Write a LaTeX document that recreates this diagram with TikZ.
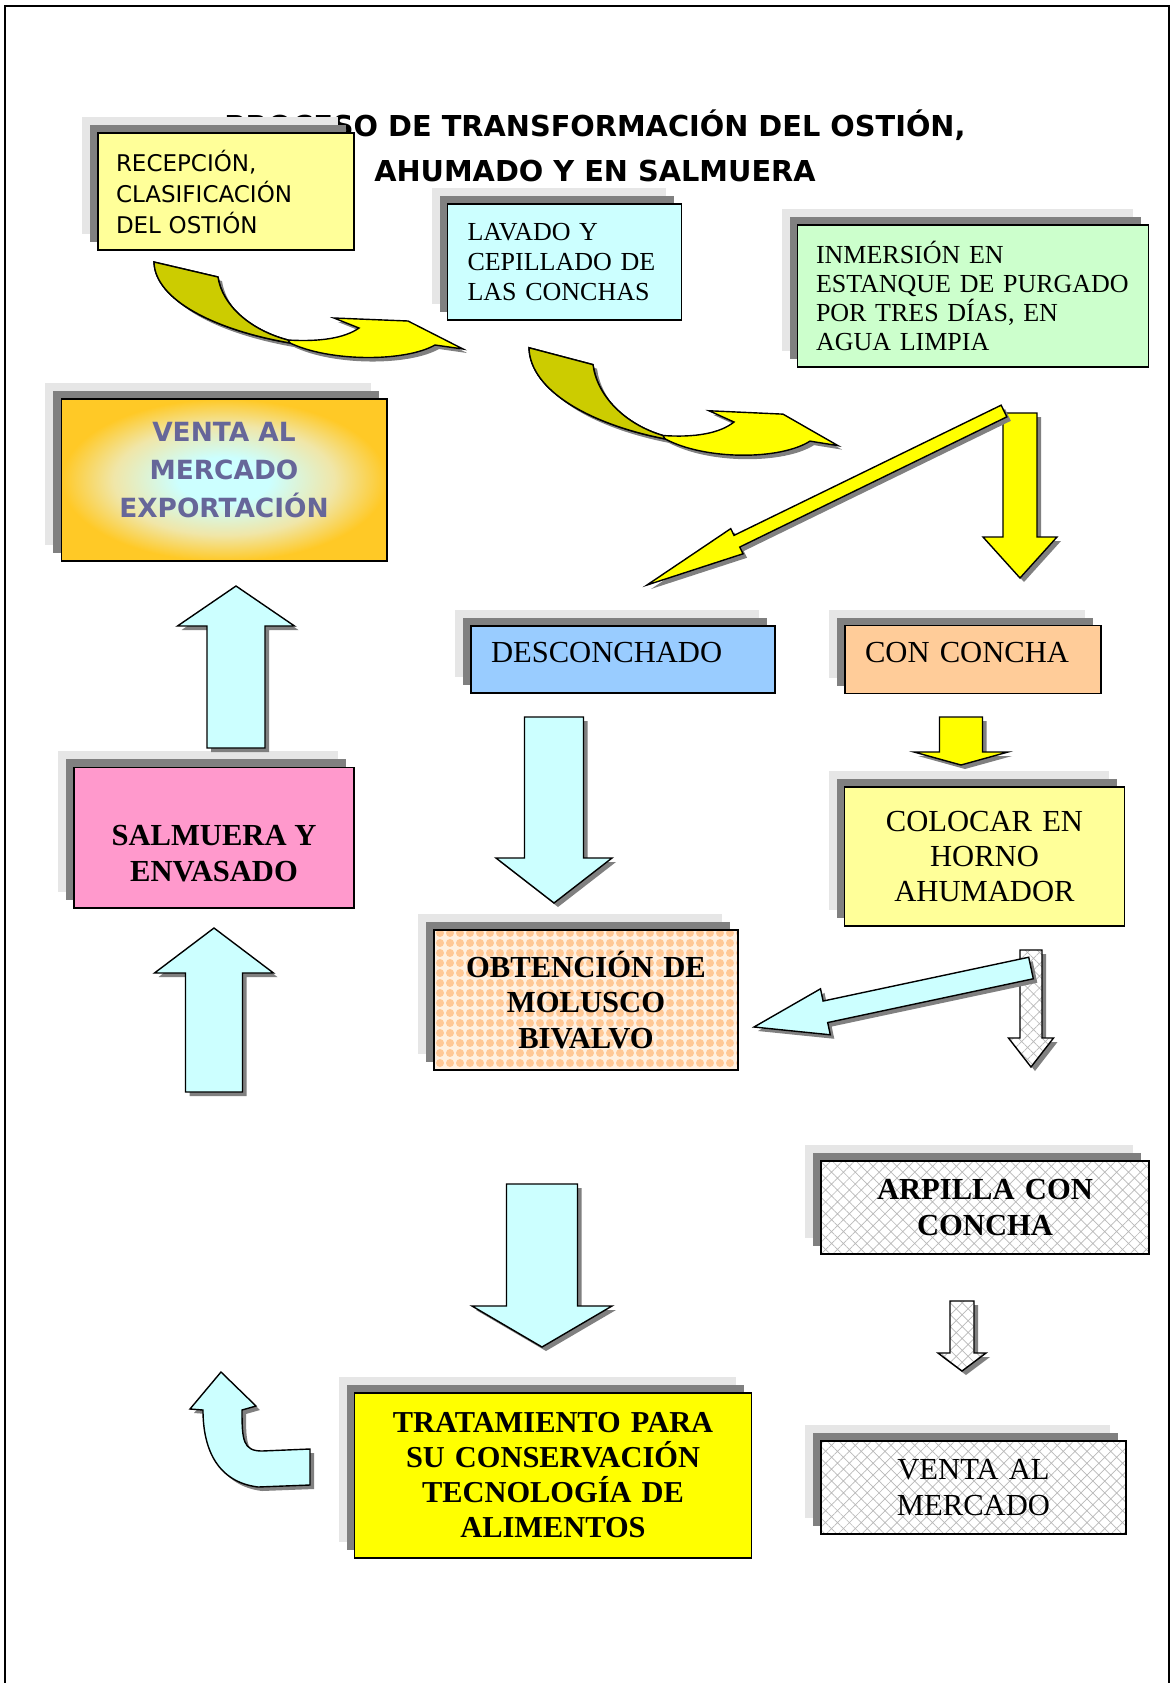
\documentclass[tikz,border=0pt]{standalone}
\usepackage{fontspec}
\setmainfont{Liberation Serif}
\newfontfamily\comic{DejaVu Sans}
\usetikzlibrary{calc, patterns, patterns.meta}

\definecolor{amarillo}{HTML}{FFFF00}
\definecolor{amarilloclaro}{HTML}{FFFF99}
\definecolor{cianclaro}{HTML}{CCFFFF}
\definecolor{verdeclaro}{HTML}{CCFFCC}
\definecolor{azulclaro}{HTML}{99CCFF}
\definecolor{durazno}{HTML}{FFCC99}
\definecolor{rosa}{HTML}{FF99CC}
\definecolor{oliva}{HTML}{CCCC00}
\definecolor{oro}{HTML}{FFC926}
\definecolor{crema}{HTML}{F0E6A8}
\definecolor{lila}{HTML}{666699}
\definecolor{sombraclara}{HTML}{E6E6E6}
\definecolor{sombraoscura}{HTML}{808080}
\definecolor{puntos}{HTML}{FFC896}
\definecolor{fondopuntos}{HTML}{FFF0E0}

\pgfdeclareradialshading{exportacion}{\pgfpoint{0bp}{0bp}}{color(0bp)=(cianclaro); color(7bp)=(cianclaro); color(17bp)=(crema); color(25bp)=(oro); color(50bp)=(oro)}

% flecha de bloque: estilo, cola, punta, medio ancho, medio ancho punta, largo punta
\newcommand{\bloque}[6]{%
	\coordinate (bt) at #2;
	\coordinate (bp) at #3;
	\coordinate (bb) at ($(bp)!#6!(bt)$);
	\draw[flecha, #1] ($(bt)!#4!90:(bp)$) -- ($(bb)!#4!90:(bp)$) -- ($(bb)!#5!90:(bp)$) -- (bp)
		-- ($(bb)!#5!-90:(bp)$) -- ($(bb)!#4!-90:(bp)$) -- ($(bt)!#4!-90:(bp)$) -- cycle;
}

% flecha curva torcida
\newcommand{\cinta}{%
	\draw[flecha, fill=amarillo] (154,262) -- (218,277)
		.. controls (222,305) and (250,330) .. (288,340)
		.. controls (320,342) and (345,338) .. (359,328)
		-- (334,318) -- (408,321) -- (463,349) -- (435,345)
		.. controls (405,362) and (330,362) .. (290,343)
		.. controls (215,330) and (155,300) .. (154,262) -- cycle;
	\draw[fill=oliva, line width=0.7pt] (154,262) -- (218,277)
		.. controls (222,305) and (250,330) .. (288,340)
		-- (290,343)
		.. controls (215,330) and (155,300) .. (154,262) -- cycle;
}

\begin{document}
\begin{tikzpicture}[x=0.5pt, y=-0.5pt,
	caja/.style={draw, line width=0.9pt, inner sep=0pt, outer sep=0pt,
		preaction={fill=sombraclara, transform canvas={shift={(-8pt,8pt)}}},
		preaction={fill=sombraoscura, transform canvas={shift={(-4pt,4pt)}}}},
	flecha/.style={draw, line width=0.7pt,
		preaction={fill=sombraoscura, transform canvas={shift={(2pt,-2pt)}}}},
	trama/.style={preaction={fill=white}, pattern={Hatch[angle=45, distance=4.2pt, line width=0.35pt]}, pattern color=gray!55},
	rayado/.style={path picture={\fill[pattern={Hatch[angle=45, distance=4.2pt, line width=0.35pt]}, pattern color=gray!55]
		(path picture bounding box.south west) rectangle (path picture bounding box.north east);}},
	tnr/.style={font=\fontsize{15.3}{17.7}\selectfont},
	tnrb/.style={font=\bfseries\fontsize{15.3}{17.7}\selectfont},
	chico/.style={font=\fontsize{13}{15.2}\selectfont}]

	\useasboundingbox (0,0) rectangle (1172,1683);
	\draw[line width=1pt] (5,1683) -- (5,6) -- (1169,6) -- (1169,1683);

	\node[font=\comic\bfseries\fontsize{14.4}{22.5}\selectfont, align=center] (titulo) at (595,146)
		{PROCESO DE TRANSFORMACIÓN DEL OSTIÓN,\\AHUMADO Y EN SALMUERA};

	% cajas
	\node[caja, fill=amarilloclaro, minimum width=128pt, minimum height=58.5pt, text width=110pt, align=left,
		font=\comic\fontsize{11.5}{15.5}\selectfont] (recepcion) at (226,191.6) {RECEPCIÓN,\\CLASIFICACIÓN\\DEL OSTIÓN};
	\node[caja, chico, fill=cianclaro, minimum width=117pt, minimum height=58pt, text width=97pt, align=left]
		(lavado) at (564.5,262) {LAVADO Y\\CEPILLADO DE\\LAS CONCHAS};
	\node[caja, font=\fontsize{13}{14.5}\selectfont, fill=verdeclaro, minimum width=175.5pt, minimum height=70.8pt,
		text width=157pt, align=left] (inmersion) at (973,296) {INMERSIÓN EN\\ESTANQUE DE PURGADO\\POR TRES DÍAS, EN\\AGUA LIMPIA};

	\node[caja, minimum width=162.6pt, minimum height=81pt,
		path picture={\shade[shading=exportacion] (path picture bounding box.south west) rectangle (path picture bounding box.north east);}]
		(exportacion) at (224,480) {};
	\node[font=\comic\bfseries\fontsize{13.2}{19}\selectfont, text=lila, align=center]
		(exportacion texto) at ([yshift=4.8pt]exportacion.center) {VENTA AL\\MERCADO\\EXPORTACIÓN};

	\node[caja, tnr, fill=azulclaro, minimum width=151.9pt, minimum height=33.8pt, text width=132pt, align=left,
		text depth=7pt] (desconchado) at (623,659.5) {DESCONCHADO};
	\node[caja, tnr, fill=durazno, minimum width=128.3pt, minimum height=34pt, text width=108pt, align=left,
		text depth=7pt] (conconcha) at (973,659.5) {CON CONCHA};
	\node[caja, tnr, fill=amarilloclaro, minimum width=140pt, minimum height=69.6pt, text width=130pt, align=center]
		(colocar) at (984.5,856.6) {COLOCAR EN\\HORNO\\AHUMADOR};

	\node[caja, fill=rosa, minimum width=140pt, minimum height=70.3pt] (salmuera) at (214,837.7) {};
	\node[tnrb, align=center] (salmuera texto) at ([yshift=-8pt]salmuera.center) {SALMUERA Y\\ENVASADO};

	\node[caja, tnrb, fill=fondopuntos, minimum width=151.7pt, minimum height=69.7pt, text width=145pt, align=center,
		path picture={\fill[pattern={Dots[distance=5pt, radius=2pt]}, pattern color=puntos]
		(path picture bounding box.south west) rectangle (path picture bounding box.north east);}]
		(obtencion) at (586,1000) {OBTENCIÓN DE\\MOLUSCO\\BIVALVO};

	\node[caja, tnrb, fill=white, rayado, minimum width=164pt, minimum height=46.5pt, text width=155pt, align=center]
		(arpilla) at (985,1207.5) {ARPILLA CON\\CONCHA};
	\node[caja, tnr, fill=white, rayado, minimum width=152.5pt, minimum height=46.5pt, text width=145pt, align=center]
		(ventamercado) at (973.5,1487.5) {VENTA AL\\MERCADO};
	\node[caja, font=\bfseries\fontsize{15.2}{17.5}\selectfont, fill=amarillo, minimum width=198.5pt, minimum height=82.2pt,
		text width=190pt, align=center] (tratamiento) at (553,1475.5) {TRATAMIENTO PARA\\SU CONSERVACIÓN\\TECNOLOGÍA DE\\ALIMENTOS};

	% flechas
	\cinta
	\begin{scope}[shift={(375,53)}, yscale=1.125]
		\cinta
	\end{scope}
	\bloque{fill=amarillo}{(1020,413)}{(1020,578)}{8.5pt}{18.5pt}{20.5pt}
	\bloque{fill=amarillo}{(1004,411)}{(647,585)}{3.25pt}{7pt}{50pt}
	\bloque{fill=cianclaro}{(554,717)}{(554,903)}{14.75pt}{29pt}{22.5pt}
	\bloque{fill=amarillo}{(961,717)}{(961,765)}{10.75pt}{23.5pt}{6.5pt}
	\bloque{trama}{(1031,950)}{(1031,1067)}{5.5pt}{11.25pt}{14.5pt}
	\bloque{fill=cianclaro}{(1031,968)}{(754,1027)}{5.5pt}{11.75pt}{36.5pt}
	\bloque{trama}{(962,1301)}{(962,1371)}{6pt}{12pt}{9pt}
	\bloque{fill=cianclaro}{(542,1184)}{(542,1347)}{17.75pt}{35pt}{20.5pt}
	\bloque{fill=cianclaro}{(236,748)}{(236,586)}{14.5pt}{29.25pt}{20pt}
	\bloque{fill=cianclaro}{(214,1092)}{(214,928)}{14.25pt}{29.75pt}{22.5pt}

	\draw[flecha, fill=cianclaro] (221,1372) -- (256,1406) -- (242,1410)
		.. controls (242,1440) and (243,1451) .. (262,1451) -- (310,1449) -- (310,1485) -- (258,1487)
		.. controls (218,1482) and (203,1450) .. (203,1410) -- (190,1409) -- cycle;
\end{tikzpicture}
\end{document}
